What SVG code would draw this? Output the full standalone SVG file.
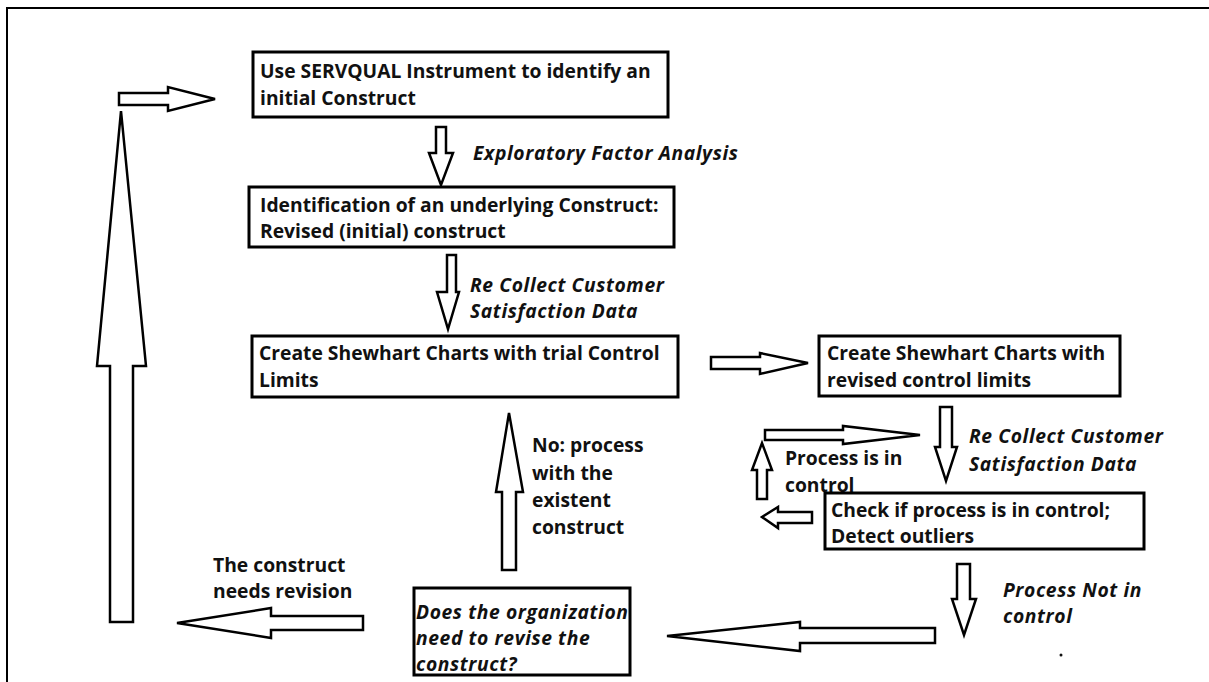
<svg xmlns="http://www.w3.org/2000/svg" width="1209" height="682" viewBox="0 0 1209 682">
<style>
.box{fill:#fff;stroke:#000;stroke-width:3}
.arr{fill:#fff;stroke:#000;stroke-width:2.5;stroke-linejoin:miter}
.t{font-family:"Open Sans","Noto Sans",sans-serif;font-weight:bold;font-size:19.3px;fill:#111}
.i{font-style:italic;letter-spacing:0.6px}
.frame{fill:none;stroke:#000;stroke-width:2}
</style>
<rect width="1209" height="682" fill="#fff"/>
<path class="frame" d="M7,682 V8 H1209"/>
<g id="connectors">
<polygon class="arr" points="119,93 168,93 168,87 215,99 168,111 168,105 119,105"/>
<polygon class="arr" points="110,622 110,366 97,366 121,111 146,366 133,366 133,622"/>
<polygon class="arr" points="436,127 446,127 446,153 453,153 441,185 429,153 436,153"/>
<polygon class="arr" points="447,255 456,255 456,292 459,292 448,329 437,292 447,292"/>
<polygon class="arr" points="711,357 760,357 760,353 808,363 760,374 760,369 711,369"/>
<polygon class="arr" points="940,407 952,407 952,447 957,447 946,481 935,447 940,447"/>
<polygon class="arr" points="765,430 843,430 843,426 920,435 843,444 843,440 765,440"/>
<polygon class="arr" points="757,499 757,470 752,470 762,443 772,470 767,470 767,499"/>
<polygon class="arr" points="812,512 778,512 778,507 762,517 778,528 778,523 812,523"/>
<polygon class="arr" points="957,564 970,564 970,599 976,599 964,635 952,599 957,599"/>
<polygon class="arr" points="935,628 800,628 800,622 667,636 800,651 800,643 935,643"/>
<polygon class="arr" points="502,570 502,492 496,492 509,413 523,492 516,492 516,570"/>
<polygon class="arr" points="363,616 271,616 271,608 177,623 271,638 271,630 363,630"/>
</g>
<g id="labels">
<text class="t i" x="473" y="160">Exploratory Factor Analysis</text>
<text class="t i" x="470" y="292">Re Collect Customer</text>
<text class="t i" x="470" y="318">Satisfaction Data</text>
<text class="t i" x="969" y="443">Re Collect Customer</text>
<text class="t i" x="969" y="471">Satisfaction Data</text>
<text class="t" x="785" y="465">Process is in</text>
<text class="t" x="785" y="492">control</text>
<text class="t i" x="1003" y="597">Process Not in</text>
<text class="t i" x="1003" y="623">control</text>
<text class="t" x="532" y="452">No: process</text>
<text class="t" x="532" y="480">with the</text>
<text class="t" x="532" y="507">existent</text>
<text class="t" x="532" y="534">construct</text>
<text class="t" x="213" y="572">The construct</text>
<text class="t" x="213" y="598">needs revision</text>
<circle cx="1061" cy="655" r="1.5" fill="#111"/>
</g>
<g id="n1"><rect class="box" x="253" y="52" width="415" height="65"/>
<text class="t" x="260" y="78">Use SERVQUAL Instrument to identify an</text>
<text class="t" x="260" y="105">initial Construct</text></g>
<g id="n2"><rect class="box" x="249" y="187" width="425" height="60"/>
<text class="t" x="260" y="212">Identification of an underlying Construct:</text>
<text class="t" x="260" y="238">Revised (initial) construct</text></g>
<g id="n3"><rect class="box" x="252" y="336" width="426" height="61"/>
<text class="t" x="259" y="360">Create Shewhart Charts with trial Control</text>
<text class="t" x="259" y="387">Limits</text></g>
<g id="n4"><rect class="box" x="819" y="336" width="301" height="60"/>
<text class="t" x="827" y="360">Create Shewhart Charts with</text>
<text class="t" x="827" y="387">revised control limits</text></g>
<g id="n5"><rect class="box" x="825" y="493" width="319" height="56"/>
<text class="t" x="831" y="517">Check if process is in control;</text>
<text class="t" x="831" y="543">Detect outliers</text></g>
<g id="n6"><rect class="box" x="414" y="588" width="216" height="87"/>
<text class="t i" x="416" y="619">Does the organization</text>
<text class="t i" x="416" y="645">need to revise the</text>
<text class="t i" x="416" y="671">construct?</text></g>
</svg>
